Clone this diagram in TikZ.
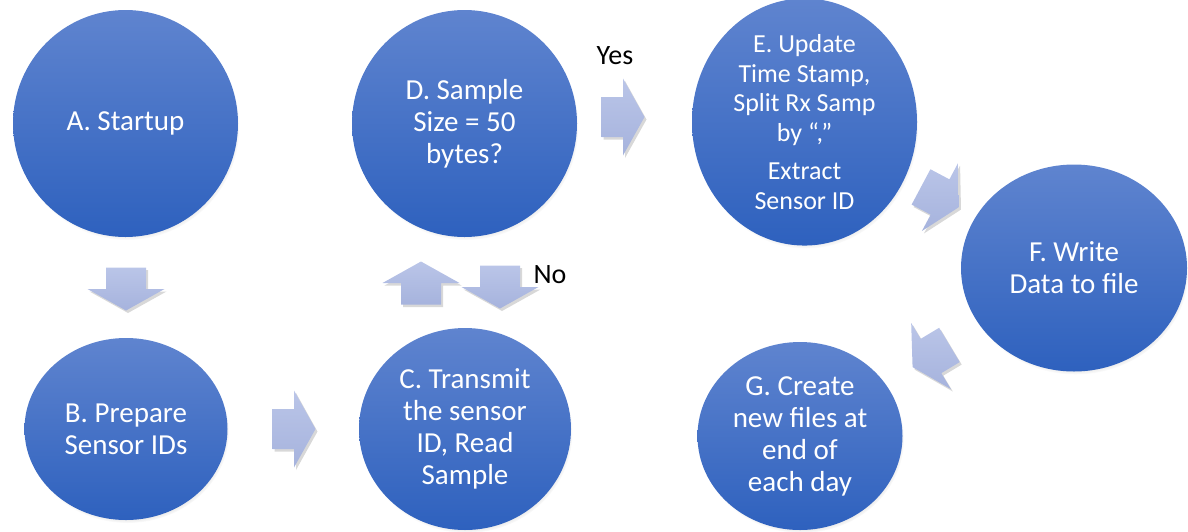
\documentclass[tikz,border=0pt]{standalone}
\usepackage{fontspec}
\setmainfont{Carlito}
\usetikzlibrary{shapes.geometric,shadows,fadings}

\definecolor{stepTop}{HTML}{5F84CF}
\definecolor{stepBot}{HTML}{2E61BE}
\definecolor{arrTop}{HTML}{BAC5E8}
\definecolor{arrBot}{HTML}{A6B3DD}

\tikzset{
  stepbox/.style={ellipse, inner sep=0pt, align=center, text=white,
    top color=stepTop, bottom color=stepBot, draw=none,
    font=\fontsize{29}{32}\selectfont,
    circular drop shadow={shadow scale=1.0, shadow xshift=1.5pt, shadow yshift=-3pt,
      opacity=.45, fill=black!60}},
  arrowfill/.style={top color=arrTop, bottom color=arrBot, draw=none,
    drop shadow={shadow xshift=2pt, shadow yshift=-2.5pt, opacity=.22, fill=black!70}},
  answer/.style={text=black, font=\fontsize{28}{32}\selectfont, inner sep=0pt},
  pics/blockarrow/.style={code={
    \path[arrowfill] (-21.5,-20) -- (0,-20) -- (0,-38.5) -- (21.5,0)
      -- (0,38.5) -- (0,20) -- (-21.5,20) -- cycle;
  }}
}

\begin{document}
\begin{tikzpicture}[x=1pt, y=-1pt]
\useasboundingbox (0,0) rectangle (1188,531);

% process steps
\node[stepbox, minimum width=225pt, minimum height=227pt] (A) at (125.5,123.5) {A. Startup};
\node[stepbox, minimum width=203pt, minimum height=182pt] (B) at (126,429) {B. Prepare\\Sensor IDs};
\node[stepbox, minimum width=212pt, minimum height=202pt] (C) at (465,429) {C. Transmit\\the sensor\\ID, Read\\Sample};
\node[stepbox, minimum width=225pt, minimum height=227pt] (D) at (464.5,123.5) {D. Sample\\Size = 50\\bytes?};
\node[stepbox, minimum width=225pt, minimum height=230pt, font=\fontsize{26}{29.5}\selectfont] (E) at (804.5,122)
  {E. Update\\Time Stamp,\\Split Rx Samp\\by “,”\\[9pt]Extract\\Sensor ID};
\node[stepbox, minimum width=226pt, minimum height=207pt] (F) at (1074,268) {F. Write\\Data to file};
\node[stepbox, minimum width=205pt, minimum height=188pt] (G) at (800,436) {G. Create\\new files at\\end of\\each day};

% flow arrows
\pic[rotate=-90] (ab) at (126,289) {blockarrow};
\pic (bc) at (294,429) {blockarrow};
\pic[rotate=90] (cd) at (421,283) {blockarrow};
\pic[rotate=-90] (dc) at (500,287) {blockarrow};
\pic (de) at (623,117) {blockarrow};
\pic[rotate=-28] (ef) at (940,197) {blockarrow};
\pic[rotate=211] (fg) at (931,356) {blockarrow};

% decision labels
\node[answer] (yes) at (615,56) {Yes};
\node[answer] (no) at (550,275) {No};
\end{tikzpicture}
\end{document}
